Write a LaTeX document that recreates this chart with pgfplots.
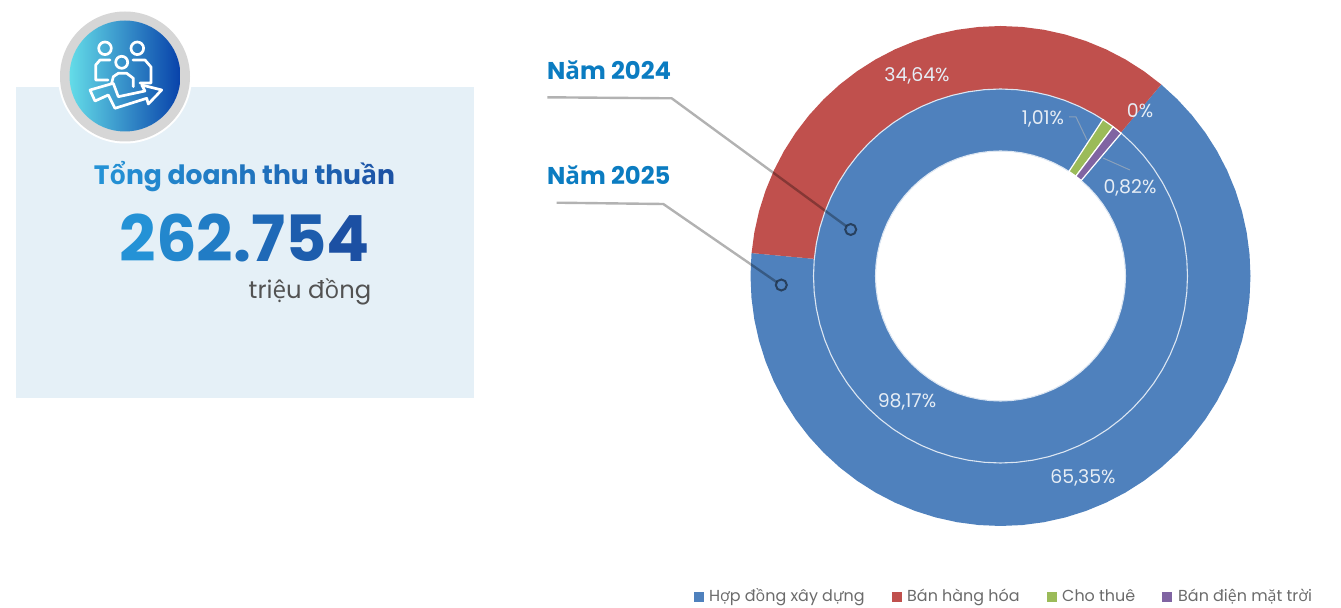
\documentclass[border=0pt]{standalone}
\usepackage{fontspec}
\usepackage{pgfplots}
\pgfplotsset{compat=1.18}
\setmainfont{Poppins}
\newfontfamily\V{Open Sans}
\newcommand\vv[1]{{\V #1}}
\definecolor{cblue}{HTML}{4F81BD}
\definecolor{cred}{HTML}{C0504D}
\definecolor{cgreen}{HTML}{9BBB59}
\definecolor{cpurple}{HTML}{8064A2}
\definecolor{panel}{HTML}{E5F0F7}
\definecolor{gs}{HTML}{2492D6}
\definecolor{ge}{HTML}{1B4CA0}
\definecolor{yr}{HTML}{0B7CC1}
\definecolor{lbl}{HTML}{E6EDF5}
\definecolor{ringw}{HTML}{DCE6F2}
\newcommand\G[2]{\textcolor{gs!#1!ge}{#2}}
\pgfplotsset{pix/.style={scale only axis,width=1341bp,height=608bp,hide axis,clip=false,
  xmin=0,xmax=1341,ymin=0,ymax=608,y dir=reverse},
  pol/.style={scale only axis,width=1341bp,height=608bp,hide axis,clip=false,
  xmin=-1000.5,xmax=340.5,ymin=-332,ymax=276}}
\begin{document}
\begin{tikzpicture}
\path[use as bounding box] (0,0) rectangle (1341bp,608bp);
% ---- left panel
\begin{axis}[pix]
\fill[panel] (16,87) rectangle (474,398);
\fill[white] (125,76.5) circle[radius=67];
\fill[black!16] (125,76.5) circle[radius=65];
\shade[left color={rgb,255:red,100;green,220;blue,232},middle color={rgb,255:red,42;green,140;blue,195},right color={rgb,255:red,8;green,66;blue,170}] (125,76) circle[radius=55.5];
\begin{scope}[white,line width=2.7bp,line join=round,line cap=round]
\draw (105,48.3) circle[radius=6.3];
\draw (137.3,48.3) circle[radius=6.3];
\draw (121.7,62.3) circle[radius=6];
\draw (110,60)--(100,60)--(95.7,65)--(95.7,80)--(108,80);
\draw (133,60)--(145,60)--(151,67)--(151,83)--(140,83);
\draw (111.7,83)--(113.3,76.7)--(118.3,73.3)--(126.7,73.3)--(133.3,78.3)--(133.3,86.7);
\draw (90,90)--(113.3,83.3)--(118.3,96.7)--(145,91)--(141.7,85)--(161.7,90)--(148.3,104)--(146.7,98.3)--(115,108.3)--(108.3,95)--(95,101)--cycle;
\end{scope}
\node[anchor=base,font=\bfseries\fontsize{26.7}{27}\selectfont,inner sep=0] at (244.5,185) {\G{100}{T}\G{95}{\vv{ổ}}\G{90}{n}\G{85}{g} \G{78}{d}\G{73}{o}\G{68}{a}\G{63}{n}\G{58}{h} \G{52}{t}\G{47}{h}\G{42}{u} \G{34}{t}\G{28}{h}\G{22}{u}\G{16}{\vv{ầ}}\G{8}{n}};
\node[anchor=base,font=\bfseries\fontsize{64}{64}\selectfont,inner sep=0] at (245,261) {\G{100}{2}\G{84}{6}\G{68}{2}\G{54}{.}\G{42}{7}\G{24}{5}\G{6}{4}};
\node[anchor=base,font=\fontsize{24.4}{25}\selectfont,text=black!68,inner sep=0] at (310,298) {tri\vv{ệ}u đ\vv{ồ}ng};
\end{axis}
% ---- donut, polar coordinates (angle, radius) around the origin
\begin{axis}[pol]
\addplot[fill=cblue,draw=none,data cs=polar] coordinates {
(50,250)(45,250)(40,250)(35,250)(30,250)(25,250)(20,250)(15,250)(10,250)(5,250)(0,250)
(-5,250)(-10,250)(-15,250)(-20,250)(-25,250)(-30,250)(-35,250)(-40,250)(-45,250)(-50,250)
(-55,250)(-60,250)(-65,250)(-70,250)(-75,250)(-80,250)(-85,250)(-90,250)(-95,250)(-100,250)
(-105,250)(-110,250)(-115,250)(-120,250)(-125,250)(-130,250)(-135,250)(-140,250)(-145,250)(-150,250)
(-155,250)(-160,250)(-165,250)(-170,250)(-175,250)(-180,250)(-185,250)(-185.26,250)
(-185.26,187)(-185,187)(-180,187)(-175,187)(-170,187)(-165,187)(-160,187)(-155,187)
(-150,187)(-145,187)(-140,187)(-135,187)(-130,187)(-125,187)(-120,187)(-115,187)(-110,187)(-105,187)
(-100,187)(-95,187)(-90,187)(-85,187)(-80,187)(-75,187)(-70,187)(-65,187)(-60,187)(-55,187)
(-50,187)(-45,187)(-40,187)(-35,187)(-30,187)(-25,187)(-20,187)(-15,187)(-10,187)(-5,187)
(0,187)(5,187)(10,187)(15,187)(20,187)(25,187)(30,187)(35,187)(40,187)(45,187)(50,187)};
\addplot[fill=cred,draw=none,data cs=polar] coordinates {
(174.74,250)(170,250)(165,250)(160,250)(155,250)(150,250)(145,250)(140,250)(135,250)(130,250)(125,250)
(120,250)(115,250)(110,250)(105,250)(100,250)(95,250)(90,250)(85,250)(80,250)(75,250)(70,250)(65,250)
(60,250)(55,250)(50,250)
(50,187)(55,187)(60,187)(65,187)(70,187)(75,187)(80,187)(85,187)(90,187)(95,187)(100,187)(105,187)
(110,187)(115,187)(120,187)(125,187)(130,187)(135,187)(140,187)(145,187)(150,187)(155,187)(160,187)
(165,187)(170,187)(174.74,187)};
\addplot[fill=cblue,draw=ringw,line width=1.1bp,data cs=polar] coordinates {
(50,187)(45,187)(40,187)(35,187)(30,187)(25,187)(20,187)(15,187)(10,187)(5,187)(0,187)
(-5,187)(-10,187)(-15,187)(-20,187)(-25,187)(-30,187)(-35,187)(-40,187)(-45,187)(-50,187)
(-55,187)(-60,187)(-65,187)(-70,187)(-75,187)(-80,187)(-85,187)(-90,187)(-95,187)(-100,187)
(-105,187)(-110,187)(-115,187)(-120,187)(-125,187)(-130,187)(-135,187)(-140,187)(-145,187)(-150,187)
(-155,187)(-160,187)(-165,187)(-170,187)(-175,187)(-180,187)(-185,187)(-190,187)(-195,187)(-200,187)
(-205,187)(-210,187)(-215,187)(-220,187)(-225,187)(-230,187)(-235,187)(-240,187)(-245,187)(-250,187)
(-255,187)(-260,187)(-265,187)(-270,187)(-275,187)(-280,187)(-285,187)(-290,187)(-295,187)(-300,187)(-303.41,187)
(-303.41,125)(-300,125)(-295,125)(-290,125)(-285,125)(-280,125)(-275,125)(-270,125)(-265,125)(-260,125)(-255,125)
(-250,125)(-245,125)(-240,125)(-235,125)(-230,125)(-225,125)(-220,125)(-215,125)(-210,125)(-205,125)
(-200,125)(-195,125)(-190,125)(-185,125)(-180,125)(-175,125)(-170,125)(-165,125)(-160,125)(-155,125)
(-150,125)(-145,125)(-140,125)(-135,125)(-130,125)(-125,125)(-120,125)(-115,125)(-110,125)(-105,125)
(-100,125)(-95,125)(-90,125)(-85,125)(-80,125)(-75,125)(-70,125)(-65,125)(-60,125)(-55,125)
(-50,125)(-45,125)(-40,125)(-35,125)(-30,125)(-25,125)(-20,125)(-15,125)(-10,125)(-5,125)
(0,125)(5,125)(10,125)(15,125)(20,125)(25,125)(30,125)(35,125)(40,125)(45,125)(50,125)(50,187)};
\addplot[fill=cgreen,draw=white,line width=1.2bp,data cs=polar] coordinates {
(56.8,187)(52.95,187)(52.95,125)(56.8,125)(56.8,187)};
\addplot[fill=cpurple,draw=white,line width=1.2bp,data cs=polar] coordinates {
(52.95,187)(49.8,187)(49.8,125)(52.95,125)(52.95,187)};
\end{axis}
% ---- labels, leader lines, legend
\begin{axis}[pix]
\begin{scope}[black,opacity=.3,line width=2.4bp,line join=round]
\draw (547.3,97.3)--(671.7,98.3)--(846,226);
\draw (556.7,202.7)--(663.3,204)--(776.5,282);
\end{scope}
\draw[black,opacity=.5,line width=2bp] (850.7,229.5) circle[radius=5.5];
\draw[black,opacity=.5,line width=2bp] (781.3,285) circle[radius=5.5];
\begin{scope}[black!25!cblue!60!white,line width=1bp]
\draw (1069,117)--(1076,117)--(1087,140);
\draw (1130,170)--(1103,158);
\end{scope}
\begin{scope}[every node/.style={text=yr,font=\bfseries\fontsize{24.4}{25}\selectfont,inner sep=0,anchor=base west}]
\node at (547,80) {N\vv{ă}m 2024};
\node at (547,184.5) {N\vv{ă}m 2025};
\end{scope}
\begin{scope}[every node/.style={text=lbl,font=\fontsize{19}{19}\selectfont,inner sep=0}]
\node at (917,76) {34,64\%};
\node at (1140,111) {0\%};
\node at (1043,119) {1,01\%};
\node at (1130,188) {0,82\%};
\node at (907,402) {98,17\%};
\node at (1083,478) {65,35\%};
\end{scope}
\addplot[only marks,mark=square*,mark size=4.5bp,color=cblue] coordinates {(699,597)};
\addplot[only marks,mark=square*,mark size=4.5bp,color=cred] coordinates {(897,597)};
\addplot[only marks,mark=square*,mark size=4.5bp,color=cgreen] coordinates {(1052,597)};
\addplot[only marks,mark=square*,mark size=4.5bp,color=cpurple] coordinates {(1167,597)};
\begin{scope}[every node/.style={text=black!58,font=\fontsize{16}{16}\selectfont,inner sep=0,anchor=base west}]
\node at (709,601) {H\vv{ợ}p đ\vv{ồ}ng xây d\vv{ự}ng};
\node at (907,601) {Bán hàng hóa};
\node at (1062,601) {Cho thuê};
\node at (1178,601) {Bán đi\vv{ệ}n m\vv{ặ}t tr\vv{ờ}i};
\end{scope}
\end{axis}
\end{tikzpicture}
\end{document}
